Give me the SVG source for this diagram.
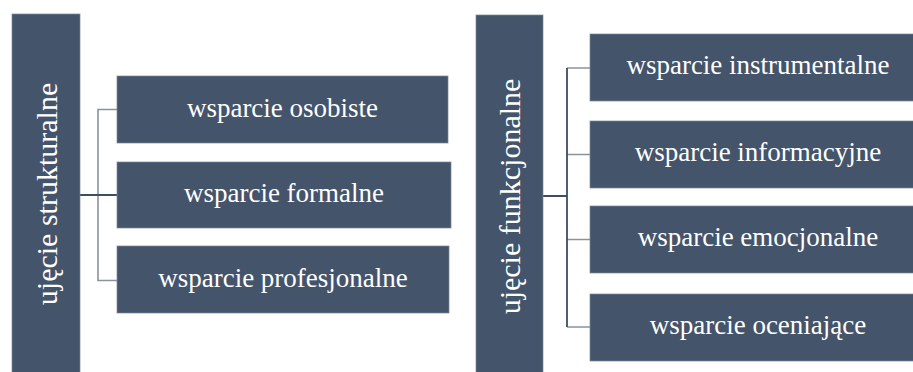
<svg xmlns="http://www.w3.org/2000/svg" width="913" height="372" viewBox="0 0 913 372">
  <style>
    .box { fill: #44546a; stroke: #7f8a99; stroke-width: 1; stroke-opacity: 0.7; }
    .lbl { font-family: 'Liberation Serif', 'DejaVu Serif', serif; font-size: 27px; fill: #ffffff; text-anchor: middle; }
    .vlbl { font-family: 'Liberation Serif', 'DejaVu Serif', serif; font-size: 30px; fill: #ffffff; text-anchor: middle; }
    .ln-light { stroke: #8a929d; stroke-width: 1.6; fill: none; }
    .ln-dark { stroke: #3f4d60; stroke-width: 1.8; fill: none; }
  </style>
  <rect width="913" height="372" fill="#ffffff"/>

  <!-- connectors -->
  <g id="connectors">
    <!-- left tree -->
    <path class="ln-light" d="M117,109.5 H98 V280.5 H117"/>
    <path class="ln-dark" d="M80,195 H117"/>
    <!-- right tree -->
    <path class="ln-light" d="M567,68 H590 M567,154.5 H590 M567,239.5 H590 M567,327 H590"/>
    <path class="ln-dark" d="M567,68 V327 M543,196 H567"/>
  </g>

  <!-- left group -->
  <g id="ujecie-strukturalne">
    <rect class="box" x="12" y="14" width="68" height="370"/>
    <text class="vlbl" transform="translate(56.5,194) rotate(-90)">ujęcie strukturalne</text>
  </g>
  <g id="wsparcie-osobiste">
    <rect class="box" x="117" y="76" width="331" height="67"/>
    <text class="lbl" x="282.5" y="116.5">wsparcie osobiste</text>
  </g>
  <g id="wsparcie-formalne">
    <rect class="box" x="117" y="162" width="334" height="66"/>
    <text class="lbl" x="284" y="202">wsparcie formalne</text>
  </g>
  <g id="wsparcie-profesjonalne">
    <rect class="box" x="117" y="246" width="332" height="67"/>
    <text class="lbl" x="283" y="286.5">wsparcie profesjonalne</text>
  </g>

  <!-- right group -->
  <g id="ujecie-funkcjonalne">
    <rect class="box" x="476" y="15" width="67" height="370"/>
    <text class="vlbl" transform="translate(520,196.5) rotate(-90)">ujęcie funkcjonalne</text>
  </g>
  <g id="wsparcie-instrumentalne">
    <rect class="box" x="590" y="34" width="340" height="67"/>
    <text class="lbl" x="758" y="74">wsparcie instrumentalne</text>
  </g>
  <g id="wsparcie-informacyjne">
    <rect class="box" x="590" y="121" width="340" height="67"/>
    <text class="lbl" x="758" y="161">wsparcie informacyjne</text>
  </g>
  <g id="wsparcie-emocjonalne">
    <rect class="box" x="590" y="206" width="340" height="67"/>
    <text class="lbl" x="758" y="246">wsparcie emocjonalne</text>
  </g>
  <g id="wsparcie-oceniajace">
    <rect class="box" x="590" y="294" width="340" height="67"/>
    <text class="lbl" x="758" y="334">wsparcie oceniające</text>
  </g>
</svg>
